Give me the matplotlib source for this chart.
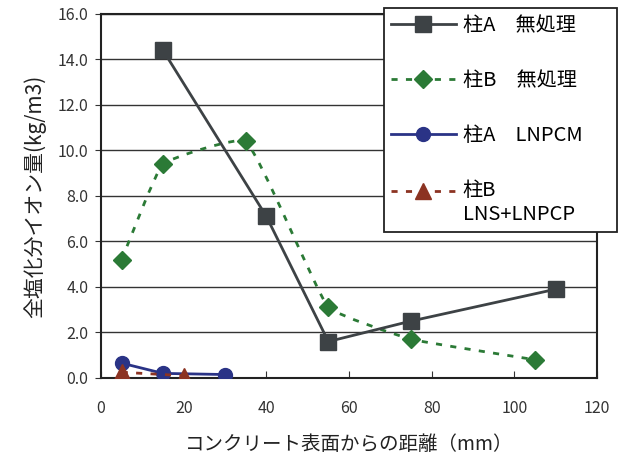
import numpy as np
import matplotlib.pyplot as plt
from matplotlib.path import Path
from matplotlib.patches import PathPatch
from matplotlib.lines import Line2D
from matplotlib.legend_handler import HandlerLine2D

plt.rcParams['font.family'] = ['Noto Sans CJK JP', 'DejaVu Sans']

# data
a_raw_x = [15, 40, 55, 75, 110]
a_raw_y = [14.4, 7.1, 1.6, 2.5, 3.9]
b_raw_x = [5, 15, 35, 55, 75, 105]
b_raw_y = [5.2, 9.4, 10.4, 3.1, 1.7, 0.8]
a_lnpcm_x = [5, 15, 30]
a_lnpcm_y = [0.65, 0.2, 0.15]
b_lns_x = [5, 20]
b_lns_y = [0.25, 0.1]

labels = ['柱A\u3000無処理', '柱B\u3000無処理', '柱A\u3000LNPCM', '柱B\nLNS+LNPCP']

c_gray = '#3d4245'
c_green = '#2b7a36'
c_blue = '#2a3386'
c_red = '#8c3322'


def smooth_path(ax, xs, ys, k=0.1):
    # smoothed line like a spreadsheet chart: bezier through the points,
    # control arms scaled by the segment length (display space)
    pts = ax.transData.transform(np.column_stack([xs, ys]))
    n = len(pts)
    verts = [pts[0]]
    codes = [Path.MOVETO]

    def tangent(i):
        d = pts[min(i + 1, n - 1)] - pts[max(i - 1, 0)]
        return d / np.hypot(*d)

    for i in range(n - 1):
        p1, p2 = pts[i], pts[i + 1]
        seg = np.hypot(*(p2 - p1))
        verts += [p1 + tangent(i) * seg * k, p2 - tangent(i + 1) * seg * k, p2]
        codes += [Path.CURVE4] * 3
    verts = ax.transData.inverted().transform(np.array(verts))
    return Path(verts, codes)


class FirstLineHandler(HandlerLine2D):
    # put the marker next to the first line of a two-line label
    def create_artists(self, legend, orig_handle, xdescent, ydescent, width,
                       height, fontsize, trans):
        return super().create_artists(legend, orig_handle, xdescent,
                                      ydescent - fontsize * 1.25, width, height,
                                      fontsize, trans)


fig = plt.figure(figsize=(6.29, 4.57), dpi=100)
ax = fig.add_axes([0.1606, 0.173, 0.7886, 0.7965])
ax.set_xlim(0, 120)
ax.set_ylim(0, 16)

ax.plot(a_raw_x, a_raw_y, color=c_gray, lw=2, marker='s', ms=11, zorder=4)

patch = PathPatch(smooth_path(ax, b_raw_x, b_raw_y), fill=False, edgecolor=c_green,
                  lw=2, linestyle=(0, (2.2, 3)), zorder=3)
ax.add_patch(patch)
ax.plot(b_raw_x, b_raw_y, linestyle='none', color=c_green, marker='D', ms=9, zorder=4)

ax.plot(a_lnpcm_x, a_lnpcm_y, color=c_blue, lw=2, marker='o', ms=10, zorder=4)
ax.plot(b_lns_x, b_lns_y, color=c_red, lw=2, linestyle=(0, (2.2, 3)), marker='^',
        ms=11, zorder=5)

ax.set_xticks(range(0, 121, 20))
ax.set_yticks(np.arange(0, 16.1, 2))
ax.set_yticklabels([f'{v:.1f}' for v in np.arange(0, 16.1, 2)])
ax.yaxis.grid(True, color='#333333', lw=1)
ax.set_axisbelow(True)
ax.tick_params(axis='x', direction='in', length=5, labelsize=11.5, pad=16, colors='#333333')
ax.tick_params(axis='y', direction='out', length=4, labelsize=11.5, pad=5, colors='#333333')
for s in ax.spines.values():
    s.set_linewidth(1.5)
    s.set_color('#222222')

ax.set_xlabel('コンクリート表面からの距離（mm）', fontsize=14, labelpad=12, color='#222222')
ax.set_ylabel('全塩化分イオン量(kg/m3)', fontsize=15, labelpad=8, color='#222222')

handles = [
    Line2D([], [], color=c_gray, lw=2, marker='s', ms=11),
    Line2D([], [], color=c_green, lw=2, linestyle=(0, (2.2, 3)), marker='D', ms=9),
    Line2D([], [], color=c_blue, lw=2, marker='o', ms=10),
    Line2D([], [], color=c_red, lw=2, linestyle=(0, (2.2, 3)), marker='^', ms=11),
]
leg = fig.legend(handles, labels, loc='upper left',
                 bbox_to_anchor=(384 / 629, 1 - 228 / 457, 233 / 629, 220 / 457),
                 bbox_transform=fig.transFigure, mode='expand', borderaxespad=0,
                 fontsize=14.5, frameon=True, fancybox=False, framealpha=1,
                 edgecolor='#222222', handlelength=3.2, labelspacing=1.68,
                 borderpad=0.36, handletextpad=0.35,
                 handler_map={handles[3]: FirstLineHandler()})
leg.get_frame().set_linewidth(1.3)
leg.set_zorder(10)

fig.savefig('out.png', dpi=100)
